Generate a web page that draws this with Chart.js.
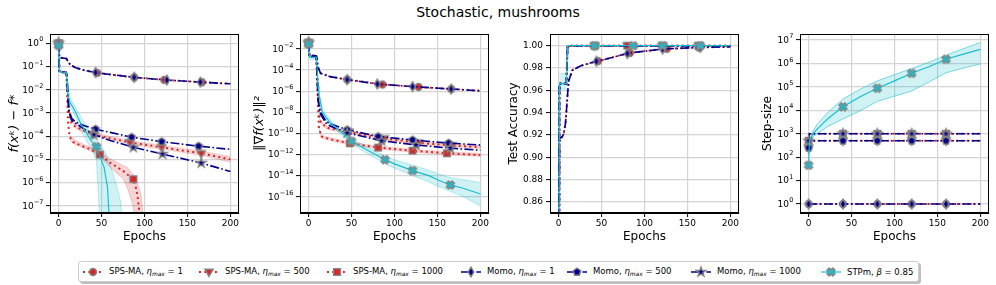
<!DOCTYPE html>
<html>
<head>
<meta charset="utf-8">
<script src="https://cdn.jsdelivr.net/npm/chart.js@4.4.1/dist/chart.umd.min.js"></script>
<style>
  html, body { margin: 0; padding: 0; background: #fff; }
  body { width: 996px; height: 285px; position: relative; overflow: hidden; font-family: "DejaVu Sans", sans-serif; color: #000; }
  #title { position: absolute; left: 0; top: 4px; width: 996px; text-align: center; font-size: 14px; line-height: 17px; }
  .panel { position: absolute; top: 25px; }
  #legend { position: absolute; left: 78px; top: 261px; width: 839px; height: 19px; border: 1px solid #ccc; border-radius: 3px;
            box-shadow: 2px 2px 0 rgba(0,0,0,0.25); background: #fff; font-size: 8.5px; }
  .item { position: absolute; top: 0; height: 19px; display: flex; align-items: center; white-space: nowrap; }
  .item canvas { margin-right: 6px; }
  .item sub { font-size: 70%; vertical-align: -2px; }
</style>
</head>
<body>
<div id="title">Stochastic, mushrooms</div>
<canvas id="c0" class="panel" width="250" height="232" style="left:0px"></canvas>
<canvas id="c1" class="panel" width="250" height="232" style="left:250px"></canvas>
<canvas id="c2" class="panel" width="250" height="232" style="left:500px"></canvas>
<canvas id="c3" class="panel" width="250" height="232" style="left:750px"></canvas>
<div id="legend"></div>
<script>
// ---- axis ticks ----
const EPOCH_TICKS = [0, 50, 100, 150, 200];
const LOSS_TICKS = [1, 1e-1, 1e-2, 1e-3, 1e-4, 1e-5, 1e-6, 1e-7];
const GRAD_TICKS = [1e-2, 1e-4, 1e-6, 1e-8, 1e-10, 1e-12, 1e-14, 1e-16];
const ACC_TICKS = [0.86, 0.88, 0.90, 0.92, 0.94, 0.96, 0.98, 1.00];
const STEP_TICKS = [1, 10, 100, 1e3, 1e4, 1e5, 1e6, 1e7];

// ---- panel 1: f(x^k) - f* ----
const lossSps1X = [0, 1, 9, 11, 14, 20, 30, 45, 60, 88, 123, 167, 200];
const lossSps1Y = [1.0, 0.24, 0.22, 0.16, 0.115, 0.088, 0.068, 0.053, 0.045, 0.034, 0.0265, 0.021, 0.018];
const lossSps1Marks = [0, 45, 88, 123, 167];
const lossSps500X = [0, 1, 9, 10, 11, 12, 15, 20, 30, 40, 60, 83, 120, 166, 200];
const lossSps500Y = [1.0, 0.058, 0.055, 0.02, 0.004, 1.0e-3, 3.6e-4, 2.5e-4, 1.7e-4, 1.23e-4, 8e-5, 5.4e-5, 3.3e-5, 1.8e-5, 1.0e-5];
const lossSps500Marks = [0, 40, 83, 120, 166];
const lossSps1000X = [0, 1, 9, 10, 11, 13, 17, 26, 38, 48, 58, 65, 75, 87, 90, 92, 93.5, 95];
const lossSps1000Y = [1.0, 0.058, 0.055, 0.006, 4e-4, 9e-5, 5.5e-5, 3.9e-5, 2.6e-5, 1.6e-5, 8e-6, 5.5e-6, 3.2e-6, 1.4e-6, 6e-7, 2.5e-7, 8e-8, 1e-10];
const lossSps1000Marks = [0, 48, 87];
const lossMomo1X = [0, 1, 9, 11, 14, 20, 30, 43, 60, 88, 126, 165, 200];
const lossMomo1Y = [1.0, 0.24, 0.22, 0.16, 0.115, 0.088, 0.068, 0.055, 0.045, 0.034, 0.026, 0.0212, 0.018];
const lossMomo1Marks = [0, 43, 88, 126, 165];
const lossMomo500X = [0, 1, 9, 10, 11, 12, 15, 20, 30, 43, 60, 85, 120, 163, 200];
const lossMomo500Y = [1.0, 0.058, 0.055, 0.02, 0.004, 1.4e-3, 6e-4, 4e-4, 2.8e-4, 2.0e-4, 1.45e-4, 9e-5, 5.8e-5, 3.7e-5, 2.7e-5];
const lossMomo500Marks = [0, 43, 85, 120, 163];
const lossMomo1000X = [0, 1, 9, 10, 11, 12, 15, 20, 30, 41, 60, 87, 121, 166, 200];
const lossMomo1000Y = [1.0, 0.058, 0.055, 0.02, 0.004, 1.2e-3, 4.9e-4, 3.5e-4, 2.0e-4, 1.15e-4, 6.5e-5, 3.3e-5, 1.7e-5, 7e-6, 3e-6];
const lossMomo1000Marks = [0, 41, 87, 121, 166];
const lossStpmX = [0, 1, 9, 10, 11, 13, 19, 26, 38, 44, 53, 57, 58.5, 59.5];
const lossStpmY = [0.8, 0.058, 0.055, 0.02, 0.006, 3e-3, 1.25e-3, 3.3e-4, 6.3e-5, 3.5e-5, 4.5e-6, 6e-7, 5e-8, 1e-10];
const lossStpmMarks = [0, 44];
// shaded std bands
const lossSps500BandX = [12, 20, 40, 83, 120, 166, 200];
const lossSps500BandHi = [1.2e-3, 3.2e-4, 1.45e-4, 6.5e-5, 4.1e-5, 2.3e-5, 1.35e-5];
const lossSps500BandLo = [8e-4, 2e-4, 1.05e-4, 4.5e-5, 2.7e-5, 1.45e-5, 7.5e-6];
const lossSps1000BandX = [13, 20, 30, 40, 48, 58, 65, 75, 80, 86, 88, 89, 92, 96, 98, 99];
const lossSps1000BandHi = [1.1e-4, 6.5e-5, 4.3e-5, 3e-5, 2e-5, 1.2e-5, 8.5e-6, 5.5e-6, 4.5e-6, 2.4e-6, 2e-6, 1.8e-6, 8.7e-7, 3e-7, 6e-8, 1e-10];
const lossSps1000BandLo = [7e-5, 4.3e-5, 3e-5, 2.1e-5, 1.3e-5, 5.5e-6, 3e-6, 1.5e-6, 6e-7, 1.2e-7, 5e-8, 1e-10, 1e-10, 1e-10, 1e-10, 1e-10];
const lossStpmBandX = [10, 13, 19, 26, 38, 44, 47, 50, 55, 65, 72, 74, 75.5];
const lossStpmBandHi = [0.05, 4.5e-3, 2e-3, 6.5e-4, 1.25e-4, 7e-5, 5e-5, 3.5e-5, 1.8e-5, 1.6e-6, 1.6e-7, 3e-8, 1e-10];
const lossStpmBandLo = [0.01, 2e-3, 8e-4, 1.7e-4, 2.8e-5, 1e-5, 1e-7, 1e-10, 1e-10, 1e-10, 1e-10, 1e-10, 1e-10];

// ---- panel 2: ||grad f(x^k)||^2 ----
const gradSps1X = [0, 1, 9, 10, 11, 14, 25, 45, 86, 128, 166, 200];
const gradSps1Y = [0.04, 2.5e-3, 2.3e-3, 6.3e-4, 1.8e-4, 5e-5, 2.4e-5, 1.26e-5, 4.3e-6, 2.5e-6, 1.6e-6, 1.1e-6];
const gradSps1Marks = [0, 45, 86, 128, 166];
const gradSps500X = [0, 1, 9, 10, 11, 12, 14, 20, 25, 47, 88, 128, 167, 200];
const gradSps500Y = [0.04, 2e-3, 1.9e-3, 3.2e-5, 1e-7, 6.3e-9, 1.3e-9, 4e-10, 2.8e-10, 1.4e-10, 3.2e-11, 1.3e-11, 7e-12, 5e-12];
const gradSps500Marks = [0, 47, 88, 128, 167];
const gradSps1000X = [0, 1, 9, 10, 11, 12, 15, 25, 48, 81, 121, 161, 200];
const gradSps1000Y = [0.04, 2e-3, 1.9e-3, 1e-5, 1e-7, 3.2e-10, 5e-11, 2.8e-11, 1.15e-11, 4.5e-12, 2.3e-12, 1.3e-12, 9e-13];
const gradSps1000Marks = [0, 48, 81, 121, 161];
const gradMomo1X = [0, 1, 9, 10, 11, 14, 25, 45, 80, 121, 166, 200];
const gradMomo1Y = [0.04, 2.5e-3, 2.3e-3, 6.3e-4, 1.8e-4, 5e-5, 2.4e-5, 1.26e-5, 4.8e-6, 2.75e-6, 1.6e-6, 1.1e-6];
const gradMomo1Marks = [0, 45, 80, 121, 166];
const gradMomo500X = [0, 1, 9, 10, 11, 12, 14, 20, 25, 45, 81, 121, 163, 200];
const gradMomo500Y = [0.04, 2e-3, 1.9e-3, 3.2e-5, 3.2e-7, 5e-8, 1e-8, 1.6e-9, 8e-10, 2.2e-10, 5e-11, 2.4e-11, 1.2e-11, 8e-12];
const gradMomo500Marks = [0, 45, 81, 121, 163];
const gradMomo1000X = [0, 1, 9, 10, 11, 12, 14, 20, 25, 45, 85, 125, 165, 200];
const gradMomo1000Y = [0.04, 2e-3, 1.9e-3, 3.2e-5, 2e-7, 3.2e-8, 6.3e-9, 1e-9, 5e-10, 1.1e-10, 2e-11, 8e-12, 4e-12, 2.5e-12];
const gradMomo1000Marks = [0, 45, 85, 125, 165];
const gradStpmX = [0, 1, 9, 10, 11, 12, 16, 25, 50, 66, 89, 100, 121, 140, 150, 165, 180, 200];
const gradStpmY = [0.03, 1.6e-3, 1.6e-3, 1e-4, 3.2e-6, 5.4e-7, 1e-8, 1.1e-9, 1.8e-11, 3.3e-12, 3.2e-13, 1.3e-13, 3e-14, 1e-14, 4e-15, 1.3e-15, 6.3e-16, 1.8e-16];
const gradStpmMarks = [0, 50, 89, 121, 165];
const gradSps500BandX = [12, 14, 20, 25, 47, 88, 128, 167, 200];
const gradSps500BandHi = [9e-9, 1.8e-9, 5.6e-10, 3.9e-10, 2e-10, 4.5e-11, 1.8e-11, 1e-11, 7e-12];
const gradSps500BandLo = [4.5e-9, 9e-10, 2.9e-10, 2e-10, 1e-10, 2.3e-11, 9e-12, 5e-12, 3.6e-12];
const gradSps1000BandX = [12, 15, 25, 48, 81, 121, 161, 200];
const gradSps1000BandHi = [4.5e-10, 7e-11, 4e-11, 1.6e-11, 6.3e-12, 3.2e-12, 1.8e-12, 1.3e-12];
const gradSps1000BandLo = [2.3e-10, 3.6e-11, 2e-11, 8e-12, 3.2e-12, 1.6e-12, 9e-13, 6.4e-13];
const gradStpmBandX = [1, 9, 10, 12, 16, 25, 50, 66, 89, 100, 121, 140, 150, 165, 180, 200];
const gradStpmBandHi = [2.5e-3, 2.5e-3, 1.6e-4, 1e-6, 2e-8, 2e-9, 3.2e-11, 6.3e-12, 7e-13, 3.2e-13, 1e-13, 3.2e-14, 1.6e-14, 6.3e-15, 4e-15, 2.2e-15];
const gradStpmBandLo = [1e-3, 1e-3, 6.3e-5, 2.5e-7, 5e-9, 6.3e-10, 1e-11, 1.6e-12, 1.3e-13, 5e-14, 1e-14, 2.5e-15, 1e-15, 3.2e-16, 1e-16, 1.3e-17];

// ---- panel 3: test accuracy ----
const accFastX = [0, 1, 9, 10.5, 40, 42, 80, 87, 120, 121, 160, 163, 165, 200];
const accFastY = [0.5, 0.966, 0.966, 1.0, 1.0, 1.0, 1.0, 1.0, 1.0, 1.0, 1.0, 1.0, 1.0, 1.0];
const accSlowX = [0, 1, 4, 6, 8, 9, 10, 11, 12, 16, 26, 44, 46, 80, 83, 121, 126, 163, 165, 200];
const accSlowY = [0.5, 0.917, 0.918, 0.921, 0.93, 0.94, 0.951, 0.962, 0.969, 0.978, 0.982, 0.986, 0.9862, 0.993, 0.9935, 0.997, 0.9972, 0.9984, 0.9985, 0.999];
const accSps1Marks = [46, 83, 126, 163];
const accMomo1Marks = [44, 80, 121, 165];
const accSquareMarks = [42, 80, 121, 163];
const accStpmMarks = [42, 87, 121, 165];
const accStpmBandX = [1, 9.5];
const accStpmBandHi = [0.975, 0.975];
const accStpmBandLo = [0.961, 0.961];

// ---- panel 4: step-size ----
const stepOneX = [0, 40, 80, 120, 160, 200];
const stepOneY = [1, 1, 1, 1, 1, 1];
const stepEtaX = [0, 1, 40, 80, 120, 160, 200];
const step500Y = [250, 500, 500, 500, 500, 500, 500];
const step1000Y = [500, 1000, 1000, 1000, 1000, 1000, 1000];
const stepMarks = [0, 40, 80, 120, 160];
const stepStpmX = [0, 1, 5, 10, 22, 40, 60, 80, 100, 120, 140, 160, 180, 200];
const stepStpmY = [45, 500, 980, 1580, 4270, 1.4e4, 3.8e4, 8.7e4, 1.8e5, 3.8e5, 7.2e5, 1.5e6, 2.5e6, 4.0e6];
const stepStpmBandX = [1, 5, 10, 22, 40, 60, 80, 100, 120, 140, 160, 180, 200];
const stepStpmBandHi = [525, 1260, 2500, 7900, 3.0e4, 7.9e4, 1.8e5, 3.3e5, 6.0e5, 1.12e6, 2.24e6, 4.2e6, 7.8e6];
const stepStpmBandLo = [480, 760, 1000, 2000, 4270, 9500, 2.4e4, 4.0e4, 6.6e4, 1.6e5, 4.0e5, 6.3e5, 9.5e5];

// ---- styles ----
const RED = '#d62728';
const NAVY = '#00008b';
const CYAN = '#17becf';
const RED_BAND = 'rgba(214,39,40,0.2)';
const CYAN_BAND = 'rgba(23,190,207,0.2)';
const GRID = '#d4d4d4';
const FONT = '"DejaVu Sans", sans-serif';

Chart.defaults.font.family = FONT;

function polygon(g, pts) {
  g.moveTo(pts[0][0], pts[0][1]);
  for (let i = 1; i < pts.length; i++) g.lineTo(pts[i][0], pts[i][1]);
  g.closePath();
}

function makeMarker(shape, fill) {
  const s = 14;
  const c = document.createElement('canvas');
  c.width = s; c.height = s;
  const g = c.getContext('2d');
  g.translate(s / 2, s / 2);
  g.beginPath();
  if (shape === 'circle') {
    g.arc(0, 0, 3.5, 0, Math.PI * 2);
  } else if (shape === 'square') {
    g.rect(-3.4, -3.4, 6.8, 6.8);
  } else if (shape === 'triDown') {
    polygon(g, [[0, 4.5], [-4.2, -2.8], [4.2, -2.8]]);
  } else if (shape === 'thinDiamond') {
    polygon(g, [[0, -4.9], [2.8, 0], [0, 4.9], [-2.8, 0]]);
  } else if (shape === 'pentagon') {
    const pts = [];
    for (let k = 0; k < 5; k++) {
      const a = -Math.PI / 2 + k * 2 * Math.PI / 5;
      pts.push([4 * Math.cos(a), 4 * Math.sin(a)]);
    }
    polygon(g, pts);
  } else if (shape === 'star') {
    const pts = [];
    for (let k = 0; k < 10; k++) {
      const a = -Math.PI / 2 + k * Math.PI / 5;
      const r = k % 2 ? 2 : 5;
      pts.push([r * Math.cos(a), r * Math.sin(a)]);
    }
    polygon(g, pts);
  } else if (shape === 'x') {
    const a = 4.2, b = 1.6;
    const plus = [[b, -a], [b, -b], [a, -b], [a, b], [b, b], [b, a], [-b, a], [-b, b], [-a, b], [-a, -b], [-b, -b], [-b, -a]];
    const r = Math.SQRT1_2;
    polygon(g, plus.map(([x, y]) => [(x - y) * r, (x + y) * r]));
  }
  g.fillStyle = fill;
  g.fill();
  g.lineWidth = 1.4;
  g.strokeStyle = '#858585';
  g.lineJoin = 'miter';
  g.stroke();
  return c;
}

const STYLE = {
  sps1:     { color: RED,  width: 2,   dash: [2, 3.3], marker: makeMarker('circle', RED),        order: 7 },
  sps500:   { color: RED,  width: 2,   dash: [2, 3.3], marker: makeMarker('triDown', RED),       order: 6 },
  sps1000:  { color: RED,  width: 2,   dash: [2, 3.3], marker: makeMarker('square', RED),        order: 5 },
  momo1:    { color: NAVY, width: 1.6, dash: [9, 2.4, 1.6, 2.4], marker: makeMarker('thinDiamond', NAVY), order: 4 },
  momo500:  { color: NAVY, width: 1.6, dash: [9, 2.4, 1.6, 2.4], marker: makeMarker('pentagon', NAVY),    order: 3 },
  momo1000: { color: NAVY, width: 1.6, dash: [9, 2.4, 1.6, 2.4], marker: makeMarker('star', NAVY),        order: 2 },
  stpm:     { color: CYAN, width: 1.2, dash: [],       marker: makeMarker('x', CYAN),            order: 1 },
};

function line(xs, ys, marks, key) {
  const st = STYLE[key];
  return {
    data: xs.map((x, i) => ({ x, y: ys[i] })),
    borderColor: st.color,
    borderWidth: st.width,
    borderDash: st.dash,
    borderCapStyle: 'butt',
    pointStyle: st.marker,
    pointRadius: (ctx) => (ctx.raw && marks.includes(ctx.raw.x) ? 4 : 0),
    pointHoverRadius: 0,
    pointHitRadius: 0,
    fill: false,
    tension: 0,
    order: st.order,
  };
}

function band(xs, hi, lo, color, edge) {
  const common = { pointRadius: 0, pointHoverRadius: 0, tension: 0, borderWidth: 0.8, borderColor: edge, order: 50 };
  return [
    Object.assign({ data: xs.map((x, i) => ({ x, y: hi[i] })), fill: '+1', backgroundColor: color }, common),
    Object.assign({ data: xs.map((x, i) => ({ x, y: lo[i] })), fill: false }, common),
  ];
}

const tickFont = { size: 9 };
const titleFont = { size: 12 };

function xScale() {
  return {
    type: 'linear',
    min: -10,
    max: 210,
    afterBuildTicks: (s) => { s.ticks = EPOCH_TICKS.map((v) => ({ value: v })); },
    afterFit: (s) => { s.height = 44; },
    ticks: { font: tickFont, color: '#000', padding: 1.5, maxRotation: 0, autoSkip: false, callback: (v) => String(v) },
    grid: { color: GRID, lineWidth: 1.2, tickColor: '#000', tickLength: 4, tickWidth: 1 },
    border: { color: '#000', width: 1 },
    title: { display: true, text: 'Epochs', font: titleFont, color: '#000', padding: { top: 0, bottom: 13 } },
  };
}

// log axes get "10" + raised exponent drawn by powLabels below
function yScale(type, min, max, tickVals, title, titlePad, italic) {
  const isLog = type === 'logarithmic';
  return {
    type,
    min,
    max,
    afterBuildTicks: (s) => { s.ticks = tickVals.map((v) => ({ value: v })); },
    afterFit: (s) => { s.width = 50; },
    ticks: { display: !isLog, font: tickFont, color: '#000', padding: 3, autoSkip: false, callback: (v) => v.toFixed(2) },
    grid: { color: GRID, lineWidth: 1.2, tickColor: '#000', tickLength: 4, tickWidth: 1 },
    border: { color: '#000', width: 1 },
    title: {
      display: true, text: title, color: '#000',
      font: { size: italic ? 13 : 12, style: italic ? 'italic' : 'normal' },
      padding: { top: titlePad, bottom: 0 },
    },
  };
}

const powLabels = {
  id: 'powLabels',
  afterDraw(chart) {
    const s = chart.scales.y;
    if (s.type !== 'logarithmic') return;
    const { ctx, chartArea } = chart;
    const xr = chartArea.left - 6.5;
    ctx.save();
    ctx.fillStyle = '#000';
    ctx.textAlign = 'right';
    ctx.textBaseline = 'middle';
    s.ticks.forEach((t) => {
      const y = s.getPixelForValue(t.value);
      const exp = String(Math.round(Math.log10(t.value))).replace('-', '\u2212');
      ctx.font = '6.5px ' + FONT;
      ctx.fillText(exp, xr, y - 3.5);
      const ew = ctx.measureText(exp).width;
      ctx.font = '9px ' + FONT;
      ctx.fillText('10', xr - ew - 0.3, y + 0.5);
    });
    ctx.restore();
  },
};

const framePlugin = {
  id: 'frame',
  afterDatasetsDraw(chart) {
    const { ctx, chartArea: a } = chart;
    ctx.save();
    ctx.strokeStyle = '#000';
    ctx.lineWidth = 1;
    const l = Math.round(a.left) + 0.5, t = Math.round(a.top) + 0.5;
    const r = Math.round(a.right) - 0.5, b = Math.round(a.bottom) - 0.5;
    ctx.strokeRect(l, t, r - l, b - t);
    ctx.restore();
  },
};

function makeChart(id, y, datasets) {
  return new Chart(document.getElementById(id), {
    type: 'line',
    data: { datasets },
    options: {
      responsive: false,
      animation: false,
      events: [],
      layout: { padding: { top: 9, right: 11, left: 0, bottom: 0 } },
      plugins: { legend: { display: false }, tooltip: { enabled: false } },
      scales: { x: xScale(), y },
    },
    plugins: [framePlugin, powLabels],
  });
}

makeChart('c0',
  yScale('logarithmic', 4.9e-8, 2.5, LOSS_TICKS, 'f(xᵏ) − f*', 6.5, true),
  [
    ...band(lossSps500BandX, lossSps500BandHi, lossSps500BandLo, RED_BAND, 'rgba(214,39,40,0.15)'),
    ...band(lossSps1000BandX, lossSps1000BandHi, lossSps1000BandLo, RED_BAND, 'rgba(214,39,40,0.25)'),
    ...band(lossStpmBandX, lossStpmBandHi, lossStpmBandLo, CYAN_BAND, 'rgba(23,190,207,0.35)'),
    line(lossSps1X, lossSps1Y, lossSps1Marks, 'sps1'),
    line(lossSps500X, lossSps500Y, lossSps500Marks, 'sps500'),
    line(lossSps1000X, lossSps1000Y, lossSps1000Marks, 'sps1000'),
    line(lossMomo1X, lossMomo1Y, lossMomo1Marks, 'momo1'),
    line(lossMomo500X, lossMomo500Y, lossMomo500Marks, 'momo500'),
    line(lossMomo1000X, lossMomo1000Y, lossMomo1000Marks, 'momo1000'),
    line(lossStpmX, lossStpmY, lossStpmMarks, 'stpm'),
  ]);

makeChart('c1',
  yScale('logarithmic', 2.85e-18, 0.264, GRAD_TICKS, '‖∇f(xᵏ)‖²', 1.5, true),
  [
    ...band(gradSps500BandX, gradSps500BandHi, gradSps500BandLo, RED_BAND, 'rgba(214,39,40,0.15)'),
    ...band(gradSps1000BandX, gradSps1000BandHi, gradSps1000BandLo, RED_BAND, 'rgba(214,39,40,0.15)'),
    ...band(gradStpmBandX, gradStpmBandHi, gradStpmBandLo, CYAN_BAND, 'rgba(23,190,207,0.35)'),
    line(gradSps1X, gradSps1Y, gradSps1Marks, 'sps1'),
    line(gradSps500X, gradSps500Y, gradSps500Marks, 'sps500'),
    line(gradSps1000X, gradSps1000Y, gradSps1000Marks, 'sps1000'),
    line(gradMomo1X, gradMomo1Y, gradMomo1Marks, 'momo1'),
    line(gradMomo500X, gradMomo500Y, gradMomo500Marks, 'momo500'),
    line(gradMomo1000X, gradMomo1000Y, gradMomo1000Marks, 'momo1000'),
    line(gradStpmX, gradStpmY, gradStpmMarks, 'stpm'),
  ]);

makeChart('c2',
  yScale('linear', 0.8499, 1.0105, ACC_TICKS, 'Test Accuracy', 6.5, false),
  [
    ...band(accStpmBandX, accStpmBandHi, accStpmBandLo, CYAN_BAND, 'rgba(23,190,207,0.35)'),
    line(accSlowX, accSlowY, accSps1Marks, 'sps1'),
    line(accFastX, accFastY, accSquareMarks, 'sps500'),
    line(accFastX, accFastY, accSquareMarks, 'sps1000'),
    line(accSlowX, accSlowY, accMomo1Marks, 'momo1'),
    line(accFastX, accFastY, [], 'momo500'),
    line(accFastX, accFastY, [], 'momo1000'),
    line(accFastX, accFastY, accStpmMarks, 'stpm'),
  ]);

makeChart('c3',
  yScale('logarithmic', 0.413, 1.8e7, STEP_TICKS, 'Step-size', 10.5, false),
  [
    ...band(stepStpmBandX, stepStpmBandHi, stepStpmBandLo, CYAN_BAND, 'rgba(23,190,207,0.7)'),
    line(stepOneX, stepOneY, stepMarks, 'sps1'),
    line(stepEtaX, step500Y, stepMarks, 'sps500'),
    line(stepEtaX, step1000Y, stepMarks, 'sps1000'),
    line(stepOneX, stepOneY, stepMarks, 'momo1'),
    line(stepEtaX, step500Y, stepMarks, 'momo500'),
    line(stepEtaX, step1000Y, stepMarks, 'momo1000'),
    line(stepStpmX, stepStpmY, stepMarks, 'stpm'),
  ]);

// ---- legend ----
const LEGEND = [
  { key: 'sps1',     html: 'SPS-MA, <i>η</i><sub><i>max</i></sub> = 1',    left: 83 },
  { key: 'sps500',   html: 'SPS-MA, <i>η</i><sub><i>max</i></sub> = 500',  left: 199 },
  { key: 'sps1000',  html: 'SPS-MA, <i>η</i><sub><i>max</i></sub> = 1000', left: 327 },
  { key: 'momo1',    html: 'Momo, <i>η</i><sub><i>max</i></sub> = 1',      left: 461 },
  { key: 'momo500',  html: 'Momo, <i>η</i><sub><i>max</i></sub> = 500',    left: 567 },
  { key: 'momo1000', html: 'Momo, <i>η</i><sub><i>max</i></sub> = 1000',   left: 691 },
  { key: 'stpm',     html: 'STPm, <i>β</i> = 0.85',                        left: 821 },
];
const legendEl = document.getElementById('legend');
LEGEND.forEach((it) => {
  const st = STYLE[it.key];
  const item = document.createElement('div');
  item.className = 'item';
  item.style.left = (it.left - 79) + 'px';
  const icon = document.createElement('canvas');
  icon.width = 20; icon.height = 14;
  const g = icon.getContext('2d');
  g.strokeStyle = st.color;
  g.lineWidth = st.width;
  g.setLineDash(st.dash);
  g.beginPath(); g.moveTo(0, 7); g.lineTo(20, 7); g.stroke();
  g.drawImage(st.marker, 10 - st.marker.width / 2, 7 - st.marker.height / 2);
  const label = document.createElement('span');
  label.innerHTML = it.html;
  item.appendChild(icon);
  item.appendChild(label);
  legendEl.appendChild(item);
});
</script>
</body>
</html>
